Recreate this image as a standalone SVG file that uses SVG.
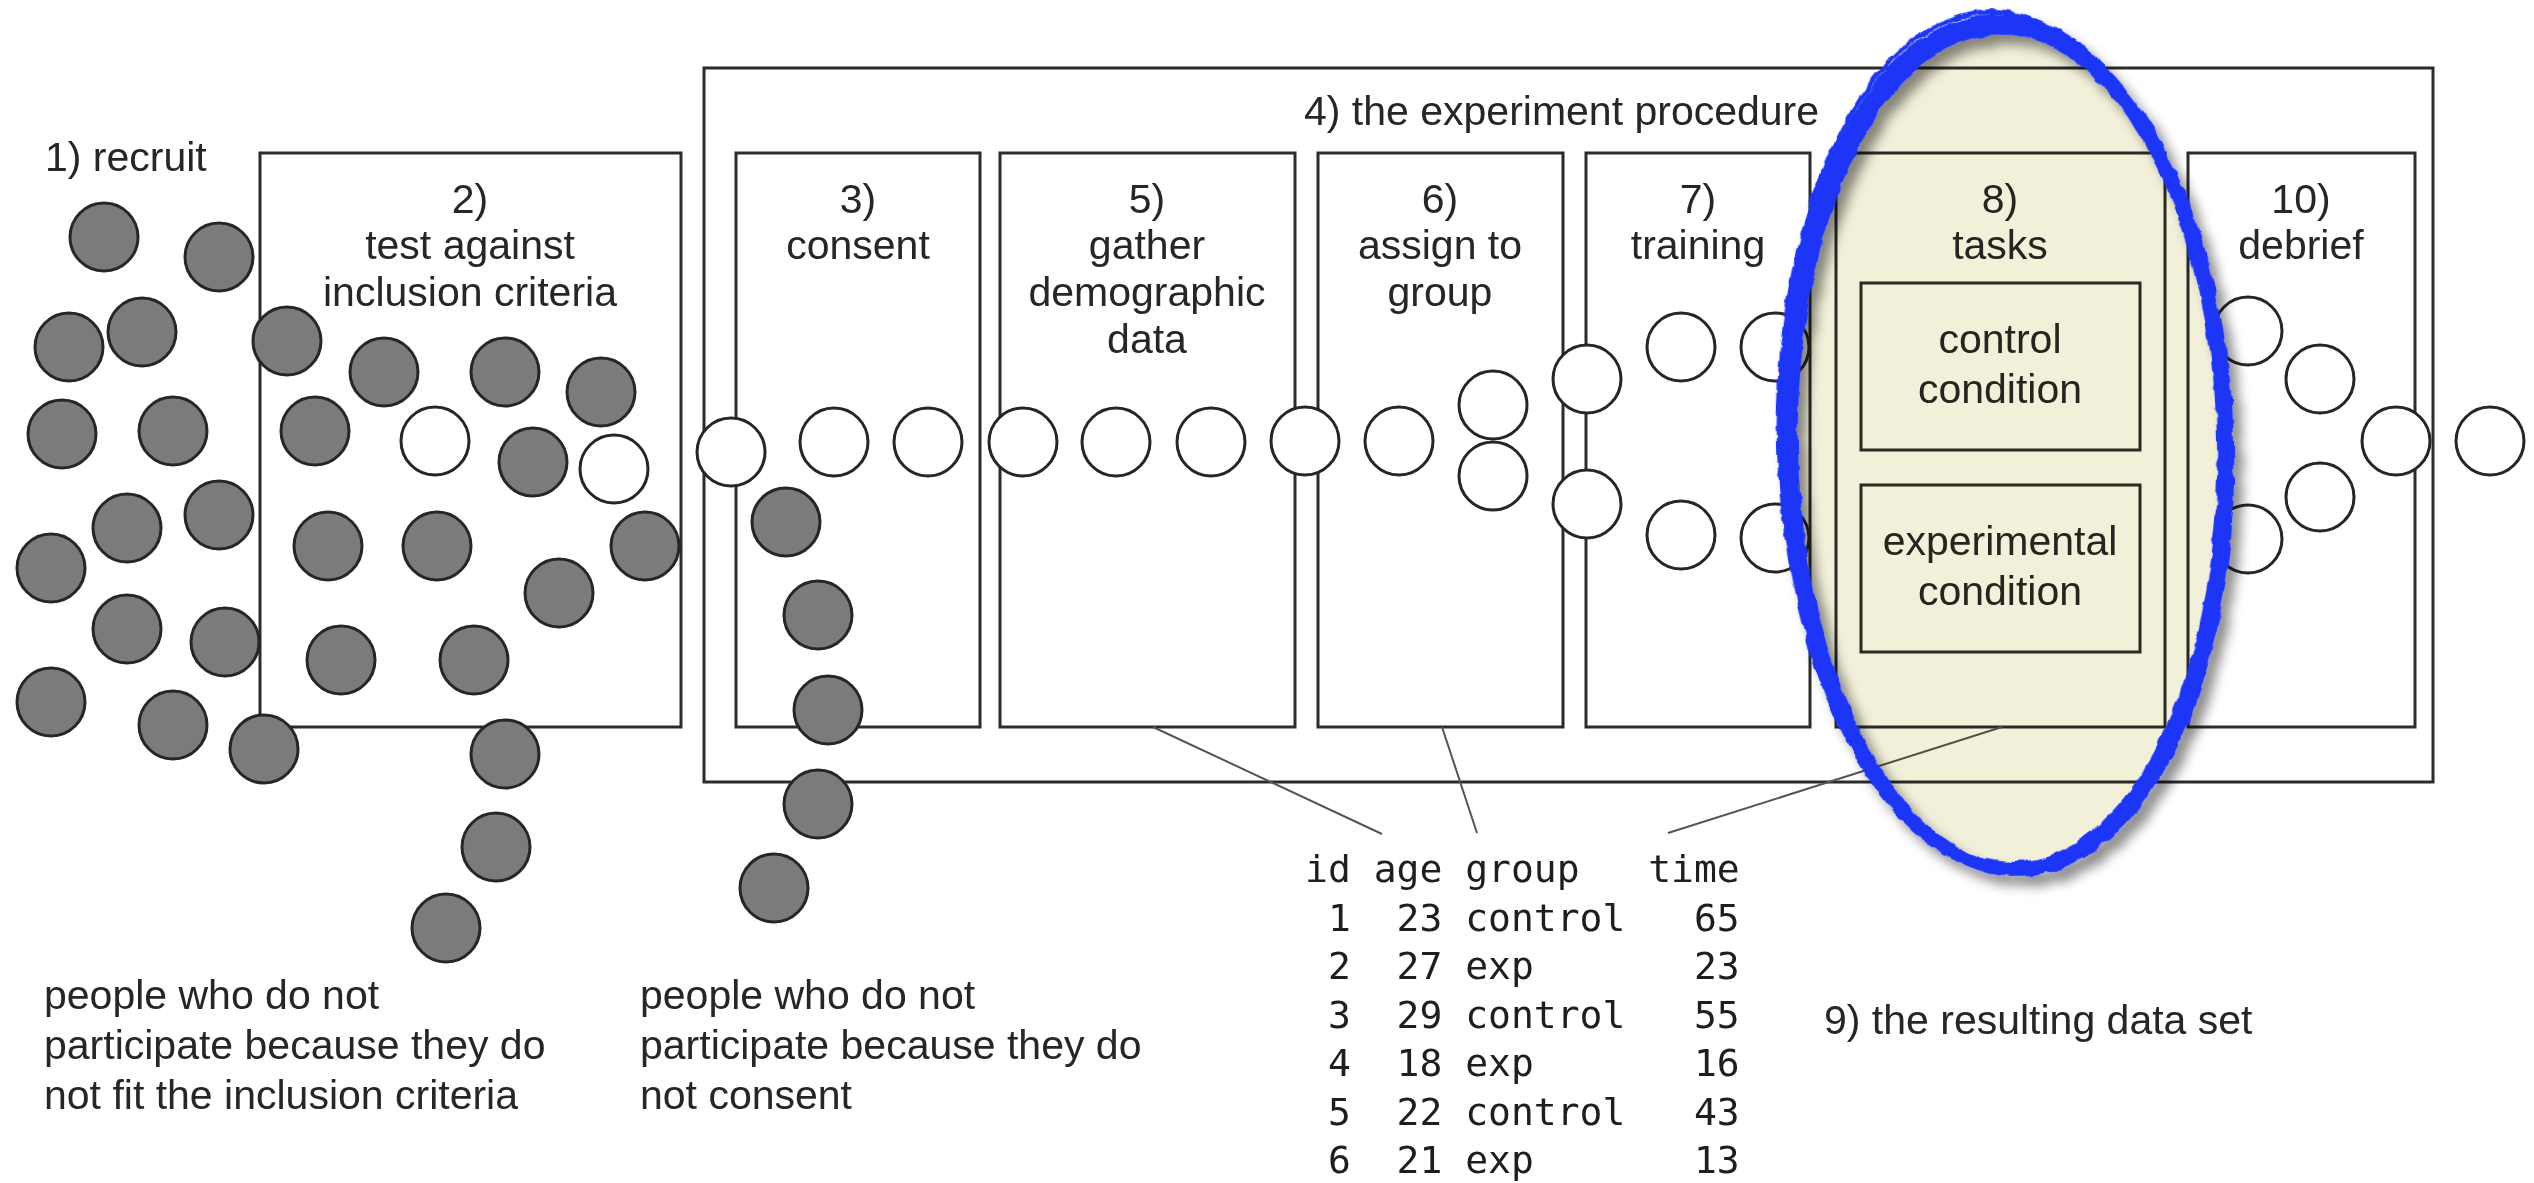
<svg xmlns="http://www.w3.org/2000/svg" width="2534" height="1183" viewBox="0 0 2534 1183">
<defs>
<style>
.box{fill:none;stroke:#2b2b2b;stroke-width:3}
.lbl{font-family:"Liberation Sans",Arial,sans-serif;font-size:41px;fill:#262626;text-anchor:middle}
.note{font-family:"Liberation Sans",Arial,sans-serif;font-size:41px;fill:#262626}
.mono{font-family:"DejaVu Sans Mono",monospace;font-size:38px;fill:#1e1e1e;white-space:pre}
.link{fill:none;stroke:#555;stroke-width:2}
.p{stroke:#262626;stroke-width:3}
.out{fill:#7b7b7b}
.in{fill:#fff}
.marker{fill:none;stroke:#1b36f7;stroke-linecap:round}
</style>
<filter id="shadow" x="-20%" y="-20%" width="140%" height="140%">
<feDropShadow dx="8" dy="10" stdDeviation="6" flood-color="#000" flood-opacity="0.45"/>
</filter>
<filter id="rough" x="-10%" y="-10%" width="120%" height="120%">
<feTurbulence type="fractalNoise" baseFrequency="0.06" numOctaves="2" seed="4" result="n"/>
<feDisplacementMap in="SourceGraphic" in2="n" scale="7" xChannelSelector="R" yChannelSelector="G"/>
</filter>
</defs>
<rect width="2534" height="1183" fill="#fff"/>

<!-- step 1 -->
<g id="step1-recruit">
<text class="note" x="45" y="171">1) recruit</text>
</g>

<!-- step 2 -->
<g id="step2-inclusion">
<rect class="box" x="260" y="153" width="421" height="574"/>
<text class="lbl" x="470" y="213">2)</text>
<text class="lbl" x="470" y="259">test against</text>
<text class="lbl" x="470" y="306">inclusion criteria</text>
</g>

<!-- step 4: experiment procedure frame -->
<g id="step4-procedure">
<rect class="box" x="704" y="68" width="1729" height="714"/>
<text class="note" x="1304" y="125">4) the experiment procedure</text>
</g>

<g id="step3-consent">
<rect class="box" x="736" y="153" width="244" height="574"/>
<text class="lbl" x="858" y="213">3)</text>
<text class="lbl" x="858" y="259">consent</text>
</g>

<g id="step5-demographics">
<rect class="box" x="1000" y="153" width="295" height="574"/>
<text class="lbl" x="1147" y="213">5)</text>
<text class="lbl" x="1147" y="259">gather</text>
<text class="lbl" x="1147" y="306">demographic</text>
<text class="lbl" x="1147" y="353">data</text>
</g>

<g id="step6-assign">
<rect class="box" x="1318" y="153" width="245" height="574"/>
<text class="lbl" x="1440" y="213">6)</text>
<text class="lbl" x="1440" y="259">assign to</text>
<text class="lbl" x="1440" y="306">group</text>
</g>

<g id="step7-training">
<rect class="box" x="1586" y="153" width="224" height="574"/>
<text class="lbl" x="1698" y="213">7)</text>
<text class="lbl" x="1698" y="259">training</text>
</g>

<g id="step8-tasks">
<rect class="box" x="1836" y="153" width="329" height="574"/>
<text class="lbl" x="2000" y="213">8)</text>
<text class="lbl" x="2000" y="259">tasks</text>
<rect class="box" x="1861" y="283" width="279" height="167"/>
<text class="lbl" x="2000" y="353">control</text>
<text class="lbl" x="2000" y="403">condition</text>
<rect class="box" x="1861" y="485" width="279" height="167"/>
<text class="lbl" x="2000" y="555">experimental</text>
<text class="lbl" x="2000" y="605">condition</text>
</g>

<g id="step10-debrief">
<rect class="box" x="2188" y="153" width="227" height="574"/>
<text class="lbl" x="2301" y="213">10)</text>
<text class="lbl" x="2301" y="259">debrief</text>
</g>

<!-- lines from the steps that produce the data columns -->
<g id="connectors">
<path class="link" d="M1153,727 L1382,834"/>
<path class="link" d="M1442,727 L1477,833"/>
<path class="link" d="M2002,727 L1668,833"/>
</g>

<!-- step 9: resulting data set -->
<g id="step9-dataset">
<text class="mono" x="1305" y="882" xml:space="preserve">id age group   time</text>
<text class="mono" x="1305" y="931" xml:space="preserve"> 1  23 control   65</text>
<text class="mono" x="1305" y="979" xml:space="preserve"> 2  27 exp       23</text>
<text class="mono" x="1305" y="1028" xml:space="preserve"> 3  29 control   55</text>
<text class="mono" x="1305" y="1076" xml:space="preserve"> 4  18 exp       16</text>
<text class="mono" x="1305" y="1125" xml:space="preserve"> 5  22 control   43</text>
<text class="mono" x="1305" y="1173" xml:space="preserve"> 6  21 exp       13</text>
<text class="note" x="1824" y="1034">9) the resulting data set</text>
</g>

<g id="dropout-notes">
<text class="note" x="44" y="1009">people who do not</text>
<text class="note" x="44" y="1059">participate because they do</text>
<text class="note" x="44" y="1109">not fit the inclusion criteria</text>
<text class="note" x="640" y="1009">people who do not</text>
<text class="note" x="640" y="1059">participate because they do</text>
<text class="note" x="640" y="1109">not consent</text>
</g>

<!-- people who are not taken on (grey) -->
<g id="excluded-people" class="p out">
<circle cx="104" cy="237" r="34"/><circle cx="219" cy="257" r="34"/>
<circle cx="69" cy="347" r="34"/><circle cx="142" cy="332" r="34"/>
<circle cx="287" cy="341" r="34"/><circle cx="384" cy="372" r="34"/>
<circle cx="505" cy="372" r="34"/><circle cx="601" cy="392" r="34"/>
<circle cx="62" cy="434" r="34"/><circle cx="173" cy="431" r="34"/>
<circle cx="315" cy="431" r="34"/><circle cx="533" cy="462" r="34"/>
<circle cx="127" cy="528" r="34"/><circle cx="219" cy="515" r="34"/>
<circle cx="51" cy="568" r="34"/><circle cx="328" cy="546" r="34"/>
<circle cx="437" cy="546" r="34"/><circle cx="645" cy="546" r="34"/>
<circle cx="559" cy="593" r="34"/><circle cx="127" cy="629" r="34"/>
<circle cx="225" cy="642" r="34"/><circle cx="341" cy="660" r="34"/>
<circle cx="474" cy="660" r="34"/><circle cx="51" cy="702" r="34"/>
<circle cx="173" cy="725" r="34"/><circle cx="264" cy="749" r="34"/>
<circle cx="505" cy="754" r="34"/><circle cx="496" cy="847" r="34"/>
<circle cx="446" cy="928" r="34"/>
<circle cx="786" cy="522" r="34"/><circle cx="818" cy="615" r="34"/>
<circle cx="828" cy="710" r="34"/><circle cx="818" cy="804" r="34"/>
<circle cx="774" cy="888" r="34"/>
</g>

<!-- participants moving through the procedure (white) -->
<g id="participants" class="p in">
<circle cx="435" cy="441" r="34"/><circle cx="614" cy="469" r="34"/>
<circle cx="731" cy="452" r="34"/><circle cx="834" cy="442" r="34"/>
<circle cx="928" cy="442" r="34"/><circle cx="1023" cy="442" r="34"/>
<circle cx="1116" cy="442" r="34"/><circle cx="1211" cy="442" r="34"/>
<circle cx="1305" cy="441" r="34"/><circle cx="1399" cy="441" r="34"/>
<circle cx="1493" cy="405" r="34"/><circle cx="1493" cy="476" r="34"/>
<circle cx="1587" cy="379" r="34"/><circle cx="1587" cy="504" r="34"/>
<circle cx="1681" cy="347" r="34"/><circle cx="1775" cy="347" r="34"/>
<circle cx="1681" cy="535" r="34"/><circle cx="1775" cy="538" r="34"/>
<circle cx="2248" cy="331" r="34"/><circle cx="2320" cy="379" r="34"/>
<circle cx="2396" cy="441" r="34"/><circle cx="2490" cy="441" r="34"/>
<circle cx="2320" cy="497" r="34"/><circle cx="2248" cy="539" r="34"/>
</g>

<!-- hand-drawn highlight around the tasks step -->
<g id="tasks-highlight" transform="rotate(-1.5 2004 444)">
<ellipse cx="2004" cy="444" rx="221" ry="426" fill="#f2f0d9" style="mix-blend-mode:multiply"/>
<g filter="url(#shadow)">
<g filter="url(#rough)">
<ellipse class="marker" cx="2004" cy="444" rx="219" ry="424" stroke-width="12"/>
<ellipse class="marker" cx="2010" cy="449" rx="218" ry="422" stroke-width="12"/>
<ellipse class="marker" cx="2001" cy="440" rx="222" ry="428" stroke-width="4"/>
<ellipse class="marker" cx="2008" cy="452" rx="214" ry="420" stroke-width="5"/>
<!-- heavier passes of the pen along the sides -->
<path class="marker" stroke-width="9" d="M1796,300 A220 425 0 0 0 2004,868"/>
<path class="marker" stroke-width="9" d="M2186,205 A221 425 0 0 1 2126,800"/>
</g>
</g>
</g>
</svg>
